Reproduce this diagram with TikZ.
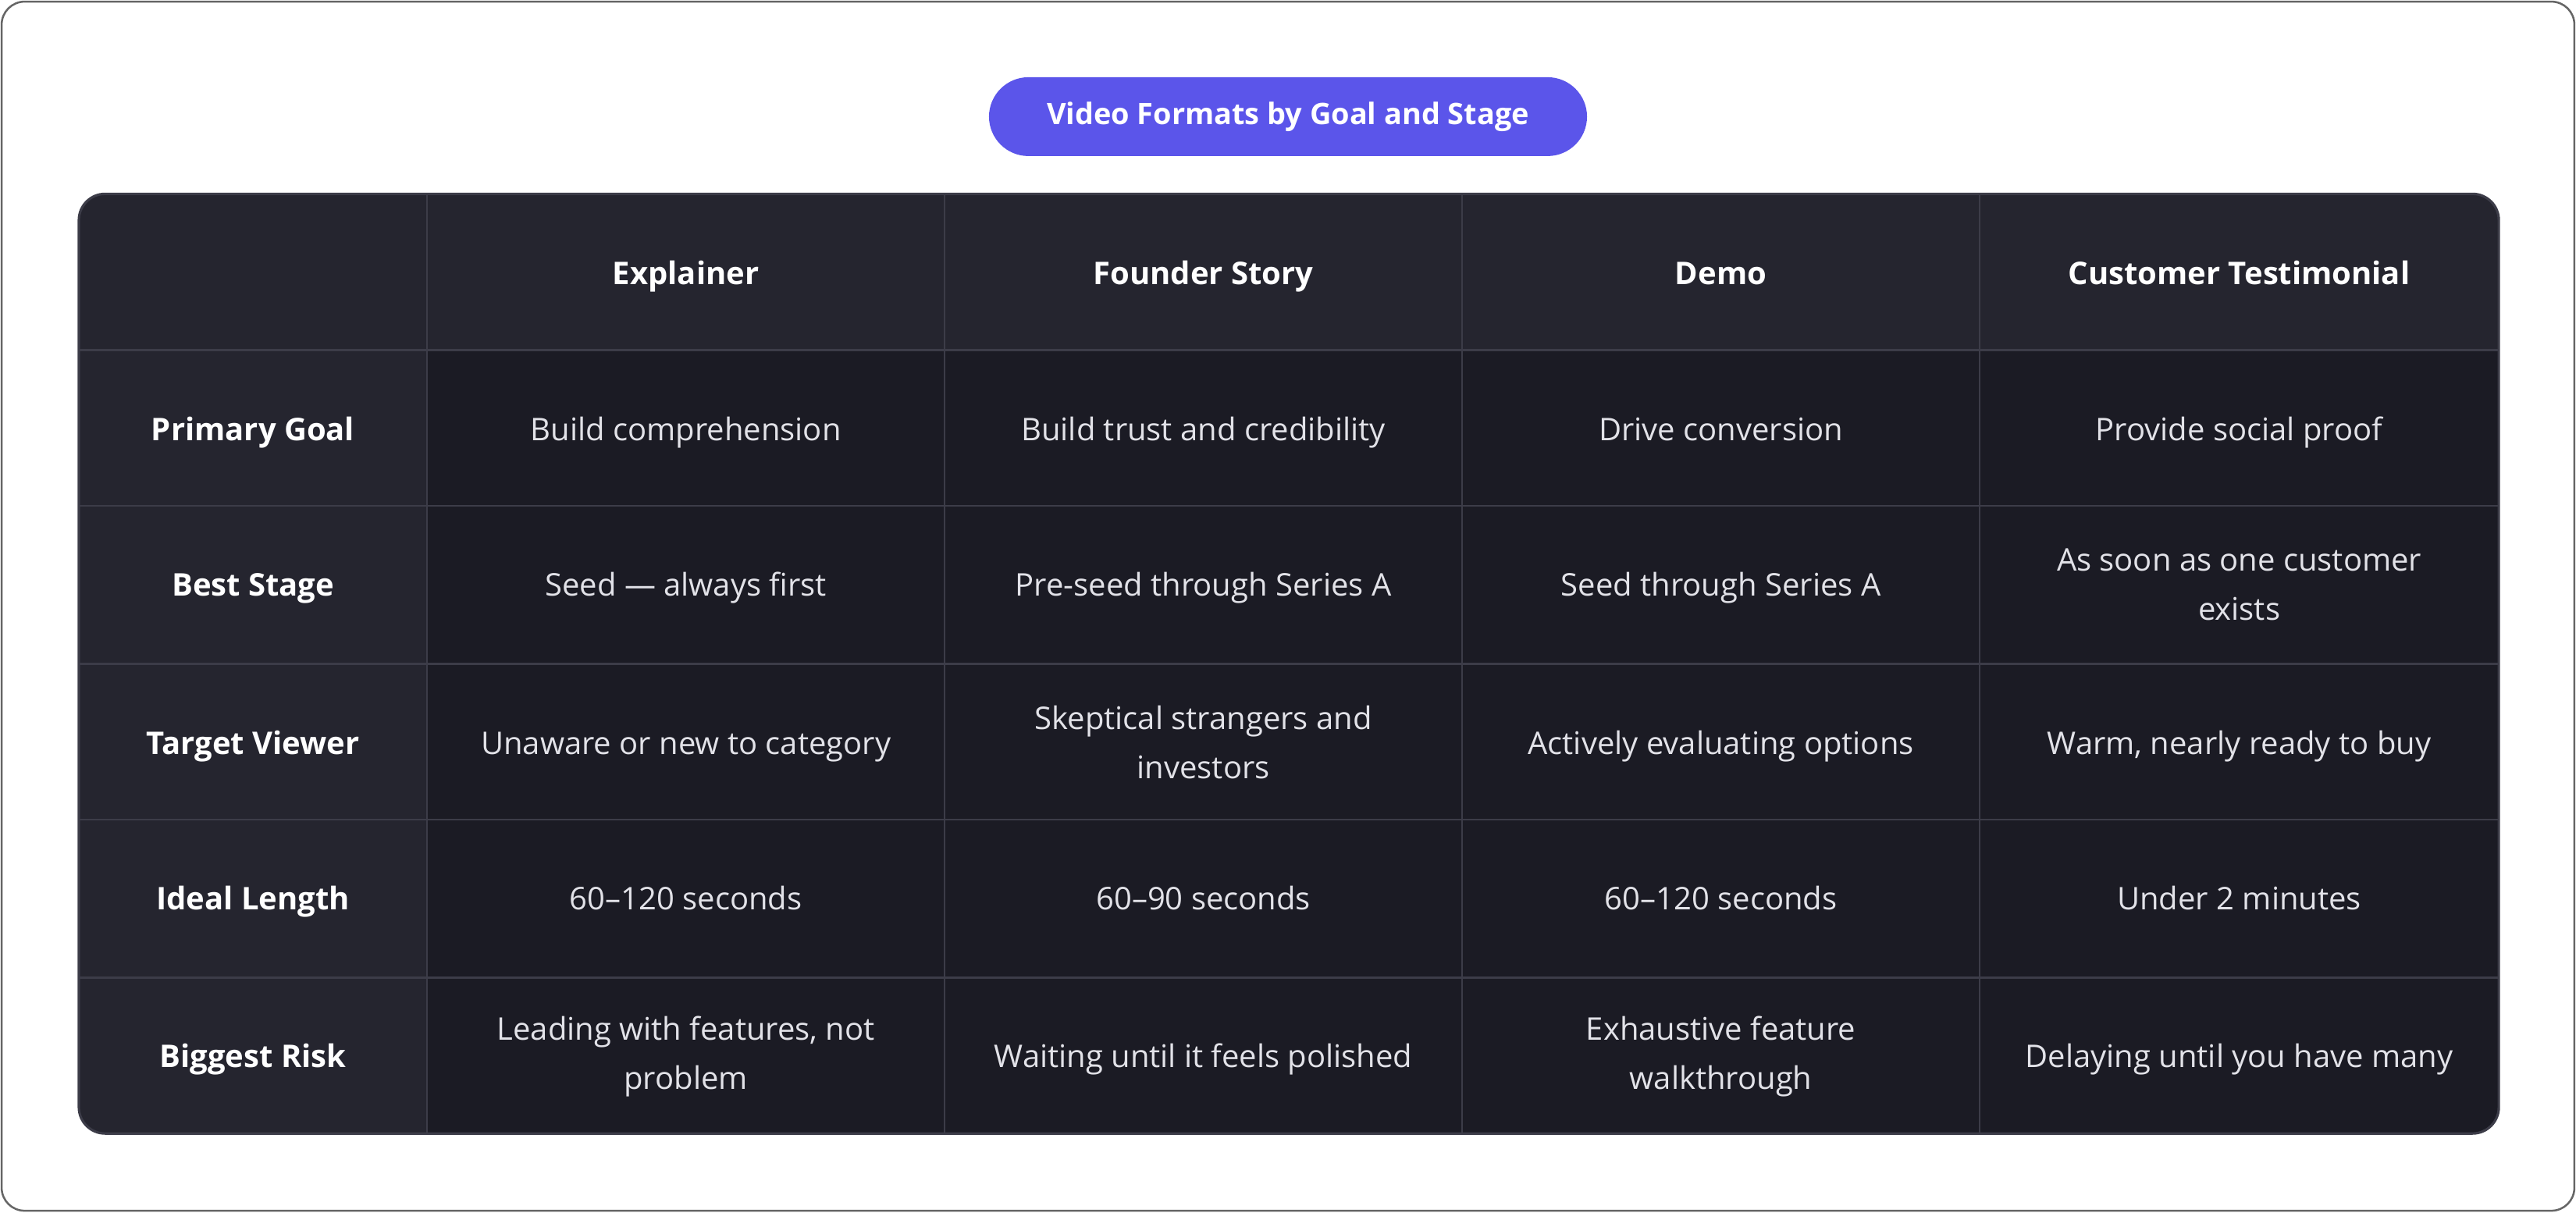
\documentclass[tikz,border=0pt]{standalone}
\usepackage{fontspec}
\setmainfont{Open Sans}
\usetikzlibrary{positioning}
\definecolor{pill}{HTML}{5B55EA}
\definecolor{headbg}{HTML}{25252F}
\definecolor{bodybg}{HTML}{1B1B24}
\definecolor{gridln}{HTML}{3C3C48}
\definecolor{bodytx}{HTML}{E2E2E8}
\tikzset{
  cell/.style={align=center, font=\fontsize{19}{30}\selectfont, text=bodytx, text height=14, text depth=4, yshift=-2pt},
  twoline/.style={align=center, font=\fontsize{19}{30}\selectfont, text=bodytx},
  head/.style={align=center, font=\fontsize{19}{30}\selectfont\bfseries, text=white, text height=14, text depth=4, yshift=-2pt},
}
\begin{document}
\begin{tikzpicture}[x=1pt,y=1pt,yscale=-1]
\useasboundingbox (0,0) rectangle (1568,738);
%frame
\draw [gray!80!black, line width=1.2, fill=white, rounded corners=14] (1,1) rectangle (1567,737);
%title
\node (title) [fill=pill, rounded corners=24, minimum width=364, minimum height=48, text=white, font=\fontsize{18}{22}\selectfont\bfseries] at (784,71) {Video Formats by Goal and Stage};
%table body
\begin{scope}
\clip [rounded corners=16] (48,118) rectangle (1521,690);
\fill [bodybg] (48,118) rectangle (1521,690);
\fill [headbg] (48,118) rectangle (1521,213);
\fill [headbg] (48,118) rectangle (260,690);
\foreach \x in {260,575,890,1205} \draw [gridln, line width=1.2] (\x,118) -- (\x,690);
\foreach \y in {213,308,404,499,595} \draw [gridln, line width=1.2] (48,\y) -- (1521,\y);
\end{scope}
\draw [gridln, line width=1.5, rounded corners=16] (48,118) rectangle (1521,690);
%header row
\node (h1) [head] at (417.5,166) {Explainer};
\node (h2) [head] at (732.5,166) {Founder Story};
\node (h3) [head] at (1047.5,166) {Demo};
\node (h4) [head] at (1363,166) {Customer Testimonial};
%row labels
\node (r1) [head] at (154,261) {Primary Goal};
\node (r2) [head] at (154,356) {Best Stage};
\node (r3) [head] at (154,452) {Target Viewer};
\node (r4) [head] at (154,547) {Ideal Length};
\node (r5) [head] at (154,643) {Biggest Risk};
%cells
\node (c11) [cell] at (417.5,261) {Build comprehension};
\node (c12) [cell] at (732.5,261) {Build trust and credibility};
\node (c13) [cell] at (1047.5,261) {Drive conversion};
\node (c14) [cell] at (1363,261) {Provide social proof};
\node (c21) [cell] at (417.5,356) {Seed — always first};
\node (c22) [cell] at (732.5,356) {Pre-seed through Series A};
\node (c23) [cell] at (1047.5,356) {Seed through Series A};
\node (c24) [twoline] at (1363,356) {As soon as one customer\\exists};
\node (c31) [cell] at (417.5,452) {Unaware or new to category};
\node (c32) [twoline] at (732.5,452) {Skeptical strangers and\\investors};
\node (c33) [cell] at (1047.5,452) {Actively evaluating options};
\node (c34) [cell] at (1363,452) {Warm, nearly ready to buy};
\node (c41) [cell] at (417.5,547) {60–120 seconds};
\node (c42) [cell] at (732.5,547) {60–90 seconds};
\node (c43) [cell] at (1047.5,547) {60–120 seconds};
\node (c44) [cell] at (1363,547) {Under 2 minutes};
\node (c51) [twoline] at (417.5,643) {Leading with features, not\\problem};
\node (c52) [cell] at (732.5,643) {Waiting until it feels polished};
\node (c53) [twoline] at (1047.5,643) {Exhaustive feature\\walkthrough};
\node (c54) [cell] at (1363,643) {Delaying until you have many};
\end{tikzpicture}
\end{document}
